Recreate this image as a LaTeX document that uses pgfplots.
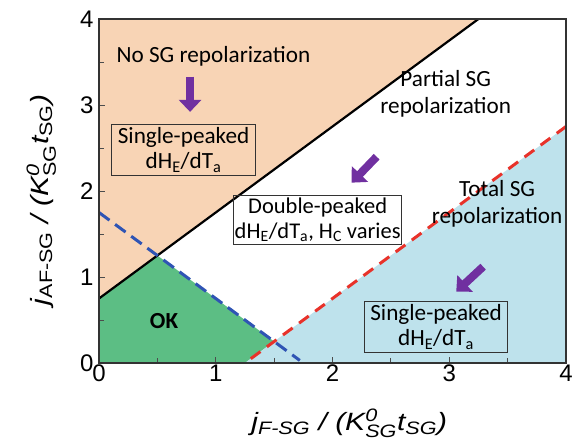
\documentclass[border=0pt]{standalone}
\usepackage{amsmath}
\usepackage{graphicx}
\usepackage{fontspec}
\setmainfont{Liberation Sans}
\newfontfamily\calfont{Carlito}
\usepackage{pgfplots}
\pgfplotsset{compat=1.18}
\usetikzlibrary{arrows.meta}
\definecolor{peach}{HTML}{F8D4B5}
\definecolor{okgreen}{HTML}{5CBE84}
\definecolor{ltblue}{HTML}{BEE2EC}
\definecolor{arrpurple}{HTML}{7030A0}
\definecolor{dblue}{HTML}{2F54B4}
\definecolor{dred}{HTML}{E8322A}
\newcommand{\sbi}[1]{\text{\fontsize{18}{18}\selectfont\itshape #1}}
\newcommand{\sbu}[1]{\text{\fontsize{18}{18}\selectfont\upshape #1}}
\begin{document}
\begin{tikzpicture}
\begin{axis}[
  at={(0,0)}, anchor=south west,
  scale only axis, width=467pt, height=344pt,
  xmin=0, xmax=4, ymin=0, ymax=4,
  xtick={0,1,2,3,4}, ytick={0,1,2,3,4},
  minor xtick={0.5,1.5,2.5,3.5}, minor ytick={0.5,1.5,2.5,3.5},
  tick pos=left, tick align=inside,
  major tick length=6pt, minor tick length=5pt,
  axis line style={draw=black!80, line width=1.4pt},
  every tick/.style={draw=black!70, line width=0.9pt},
  ticklabel style={font=\fontsize{24}{27}\selectfont},
  yticklabel style={xshift=-2pt},
  xticklabel style={yshift=2pt},
  /pgf/number format/assume math mode=true,
  axis on top,
  xlabel={\scalebox{1.2}[1]{\itshape j$_{\sbi{F-SG}}$ / (K$^{\sbi{0}}_{\sbi{SG}}$t$_{\sbi{SG}}$)}},
  ylabel={\scalebox{1.2}[1]{\itshape j$_{\sbu{AF-SG}}$ / (K$^{\sbi{0}}_{\sbu{SG}}$t$_{\sbu{SG}}$)}},
  label style={font=\fontsize{25}{29}\selectfont},
  xlabel style={at={(axis description cs:0.536,-0.195)}, anchor=base},
  ylabel style={at={(axis description cs:-0.109,0.474)}, anchor=base},
]
% regions
\addplot[fill=peach, draw=none] coordinates {(0,0.75) (0,4) (3.25,4)} -- cycle;
\addplot[fill=okgreen, draw=none] coordinates {(0,0) (0,0.75) (0.5,1.25) (1.5,0.25) (1.25,0)} -- cycle;
\addplot[fill=ltblue, draw=none] coordinates {(1.25,0) (4,0) (4,2.75)} -- cycle;
% boundaries
\addplot[black, line width=2.2pt] coordinates {(0,0.75) (3.25,4)};
\addplot[dblue, line width=3pt, dash pattern=on 13pt off 7pt] coordinates {(0,1.75) (1.72,0.03)};
\addplot[dred, line width=3pt, dash pattern=on 12pt off 8pt] coordinates {(1.3,0.05) (4,2.75)};
% arrows
\draw[arrpurple, line width=8pt, -{Triangle[length=12pt,width=22pt]}] (axis cs:0.78,3.33) -- (axis cs:0.78,2.92);
\draw[arrpurple, line width=8pt, -{Triangle[length=12pt,width=22pt]}] (axis cs:2.378,2.399) -- (axis cs:2.164,2.097);
\draw[arrpurple, line width=8pt, -{Triangle[length=12pt,width=22pt]}] (axis cs:3.29,1.12) -- (axis cs:3.06,0.83);
% texts
\begin{scope}[every node/.style={font=\calfont\fontsize{23.2}{25}\selectfont, align=center}]
\node[anchor=base] at (axis cs:0.98,3.50) {No SG repolarization};
\node[draw=black!80, line width=1pt, inner xsep=6pt, inner ysep=3pt] at (axis cs:0.724,2.477) {Single-peaked\\dH\textsubscript{E}/dT\textsubscript{a}};
\node[anchor=base, font=\calfont\fontsize{23.2}{26.5}\selectfont] at (axis cs:2.97,2.907) {Partial SG\\repolarization};
\node[draw=black!80, line width=1pt, inner xsep=1pt, inner ysep=3pt, font=\calfont\fontsize{22.5}{25}\selectfont] at (axis cs:1.873,1.663) {Double-peaked\\dH\textsubscript{E}/dT\textsubscript{a}, H\textsubscript{C} varies};
\node[anchor=base, font=\calfont\fontsize{23.2}{26.5}\selectfont] at (axis cs:3.41,1.624) {Total SG\\repolarization};
\node[draw=black!80, line width=1pt, inner xsep=6pt, inner ysep=3pt] at (axis cs:2.887,0.419) {Single-peaked\\dH\textsubscript{E}/dT\textsubscript{a}};
\node[font=\calfont\bfseries\fontsize{23}{25}\selectfont] at (axis cs:0.557,0.492) {OK};
\end{scope}
\end{axis}
\pgfresetboundingbox
\path[use as bounding box] (-99pt,-79pt) rectangle (484pt,363pt);
\end{tikzpicture}
\end{document}
